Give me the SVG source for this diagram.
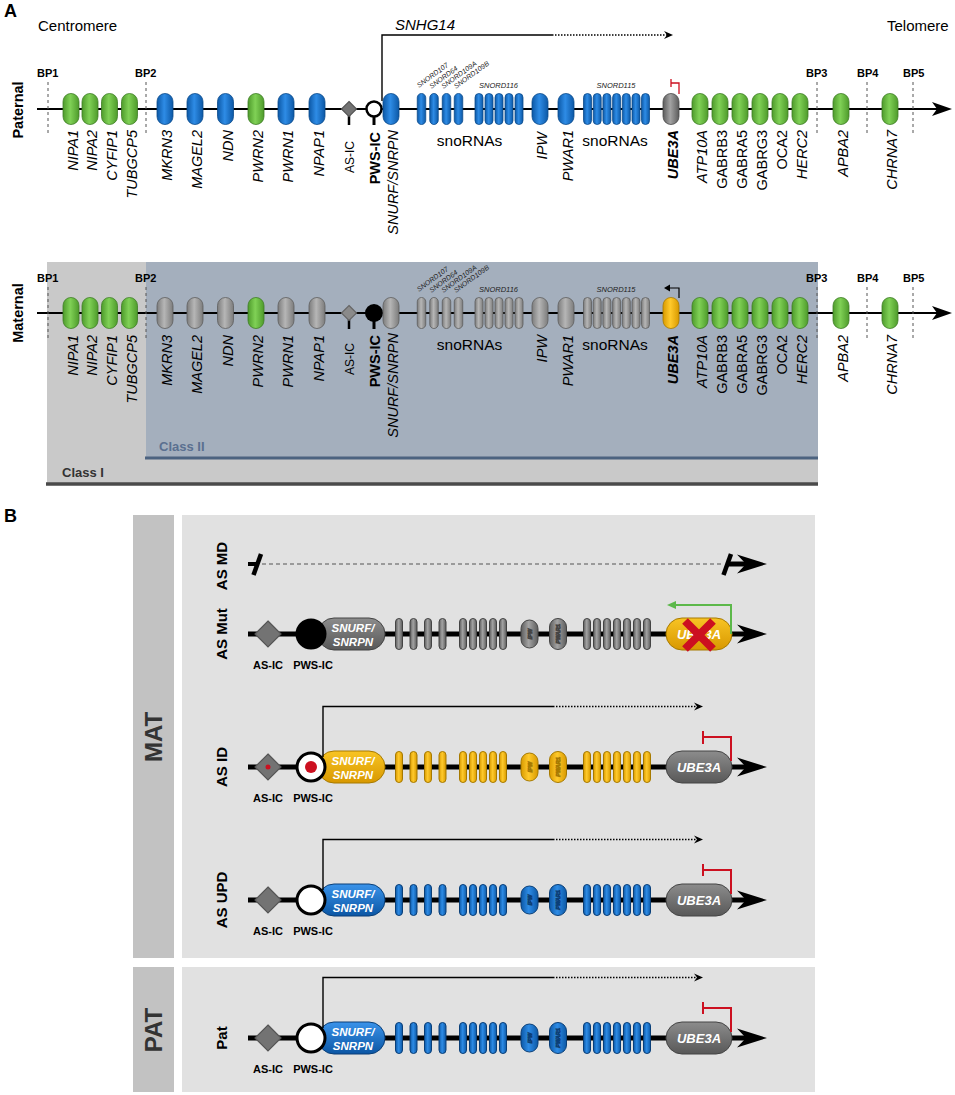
<svg xmlns="http://www.w3.org/2000/svg" width="955" height="1095" viewBox="0 0 955 1095">
<defs>
<style>
text{font-family:"Liberation Sans",Arial,Helvetica,sans-serif;fill:#000}
.gl{font-size:14.5px;font-style:italic}
.pl{font-size:14.5px;font-weight:bold}
.asl{font-size:12px}
.bp{font-size:11px;font-weight:bold}
.sn{font-size:7px;font-style:italic;fill:#222}
.sn2{font-size:7.5px;font-style:italic;fill:#222}
.sno{font-size:15.5px}
.hd{font-size:15px}
.row{font-size:15px;font-weight:bold}
.side{font-size:24px;font-weight:bold;fill:#333}
.icl{font-size:11px;font-weight:bold}
.wt{font-weight:bold;font-style:italic;fill:#fff}
.tiny{font-size:5.5px;font-weight:bold;font-style:italic;fill:#fff}
.g{fill:url(#gG);stroke:#3f7d27;stroke-width:.8}
.b{fill:url(#gB);stroke:#0c4b8c;stroke-width:.8}
.k{fill:url(#gK);stroke:#4a4a4a;stroke-width:.8}
.m{fill:url(#gM);stroke:#5e5e5e;stroke-width:.8}
.o{fill:url(#gO);stroke:#a77a00;stroke-width:.8}
.bb{fill:url(#gB);stroke:#0a3f78;stroke-width:1}
.bk{fill:url(#gK);stroke:#444;stroke-width:1}
.bo{fill:url(#gO);stroke:#a77a00;stroke-width:1}
.bv{fill:url(#gBv);stroke:#0a3f78;stroke-width:1}
.kv{fill:url(#gKv);stroke:#444;stroke-width:1}
.ov{fill:url(#gOv);stroke:#a77a00;stroke-width:1}
.ax{stroke:#000;stroke-width:2;fill:none}
.axB{stroke:#000;stroke-width:5;fill:none}
.dash{stroke:#555;stroke-width:1;stroke-dasharray:3 3;fill:none}
.tx{stroke:#000;stroke-width:1.4;fill:none}
.dot{stroke:#000;stroke-width:1.4;stroke-dasharray:1.5 1.5;fill:none}
.red{stroke:#cc1020;stroke-width:2;fill:none}
.dia{fill:#737373;stroke:#555;stroke-width:1.2}
</style>
<linearGradient id="gG" x1="0" y1="0" x2="1" y2="0"><stop offset="0" stop-color="#4e9b2b"/><stop offset=".45" stop-color="#80d156"/><stop offset="1" stop-color="#4e9b2b"/></linearGradient>
<linearGradient id="gB" x1="0" y1="0" x2="1" y2="0"><stop offset="0" stop-color="#0c58a6"/><stop offset=".45" stop-color="#2e8ce6"/><stop offset="1" stop-color="#0c58a6"/></linearGradient>
<linearGradient id="gK" x1="0" y1="0" x2="1" y2="0"><stop offset="0" stop-color="#5c5c5c"/><stop offset=".45" stop-color="#a3a3a3"/><stop offset="1" stop-color="#5c5c5c"/></linearGradient>
<linearGradient id="gM" x1="0" y1="0" x2="1" y2="0"><stop offset="0" stop-color="#7c7c7c"/><stop offset=".45" stop-color="#b6b6b6"/><stop offset="1" stop-color="#7c7c7c"/></linearGradient>
<linearGradient id="gO" x1="0" y1="0" x2="1" y2="0"><stop offset="0" stop-color="#d99a00"/><stop offset=".45" stop-color="#ffca2c"/><stop offset="1" stop-color="#d99a00"/></linearGradient>
<linearGradient id="gBv" x1="0" y1="0" x2="0" y2="1"><stop offset="0" stop-color="#3a93ea"/><stop offset="1" stop-color="#0b56a4"/></linearGradient>
<linearGradient id="gKv" x1="0" y1="0" x2="0" y2="1"><stop offset="0" stop-color="#8c8c8c"/><stop offset="1" stop-color="#585858"/></linearGradient>
<linearGradient id="gOv" x1="0" y1="0" x2="0" y2="1"><stop offset="0" stop-color="#f8c424"/><stop offset="1" stop-color="#d89800"/></linearGradient>
<path id="ahA" d="M0,0 L-20,-7 L-15,0 L-20,7Z"/>
<path id="ahB" d="M0,0 L-30,-9.5 L-21,0 L-30,9.5Z"/>
<path id="ahS" d="M0,0 L-9,-4 L-6,0 L-9,4Z"/>
<g id="bbars">
<rect x="395.5" y="-15.5" width="7" height="31" rx="3.5"/>
<rect x="410" y="-15.5" width="7" height="31" rx="3.5"/>
<rect x="424.5" y="-15.5" width="7" height="31" rx="3.5"/>
<rect x="439" y="-15.5" width="7" height="31" rx="3.5"/>
<rect x="459.5" y="-15.5" width="7" height="31" rx="3.5"/>
<rect x="469.5" y="-15.5" width="7" height="31" rx="3.5"/>
<rect x="479.5" y="-15.5" width="7" height="31" rx="3.5"/>
<rect x="489.5" y="-15.5" width="7" height="31" rx="3.5"/>
<rect x="499.5" y="-15.5" width="7" height="31" rx="3.5"/>
<rect x="521" y="-14" width="17" height="28" rx="8.5"/>
<text class="tiny" transform="translate(531.5,0) rotate(-90)" text-anchor="middle">IPW</text>
<rect x="549.5" y="-15.5" width="17" height="31" rx="8.5"/>
<text class="tiny" transform="translate(560,0) rotate(-90)" text-anchor="middle">PWAR1</text>
<rect x="583.5" y="-15.5" width="7" height="31" rx="3.5"/>
<rect x="593.5" y="-15.5" width="7" height="31" rx="3.5"/>
<rect x="603.5" y="-15.5" width="7" height="31" rx="3.5"/>
<rect x="613.5" y="-15.5" width="7" height="31" rx="3.5"/>
<rect x="623.5" y="-15.5" width="7" height="31" rx="3.5"/>
<rect x="633.5" y="-15.5" width="7" height="31" rx="3.5"/>
<rect x="643.5" y="-15.5" width="7" height="31" rx="3.5"/>
</g>
</defs>
<rect width="955" height="1095" fill="#fff"/>

<!-- ============ PANEL A ============ -->
<g id="panelA-labels">
<text x="4" y="17" style="font-size:18px;font-weight:bold">A</text>
<text class="hd" x="38" y="31">Centromere</text>
<text class="hd" x="887" y="31">Telomere</text>
<text class="pl" transform="translate(23,110) rotate(-90)" text-anchor="middle">Paternal</text>
<text class="pl" transform="translate(23,313) rotate(-90)" text-anchor="middle">Maternal</text>
</g>

<g id="class-regions">
<rect x="47" y="262" width="771" height="222" fill="#c9c9c9"/>
<rect x="146" y="262" width="672" height="196" fill="#a4afbd"/>
<line x1="145" y1="458" x2="818" y2="458" stroke="#4c6380" stroke-width="3"/>
<line x1="46" y1="484" x2="818" y2="484" stroke="#4a4a4a" stroke-width="3.5"/>
<text x="159" y="451" style="font-size:13px;font-weight:bold;fill:#5a7090">Class II</text>
<text x="62" y="477" style="font-size:13px;font-weight:bold;fill:#333">Class I</text>
</g>

<!-- ============ PANEL B frame ============ -->
<g id="panelB-frame">
<text x="4" y="522" style="font-size:18px;font-weight:bold">B</text>
<rect x="133" y="515" width="41" height="443" fill="#c2c2c2"/>
<rect x="182" y="515" width="633" height="443" fill="#e1e1e1"/>
<rect x="133" y="967" width="41" height="125" fill="#c2c2c2"/>
<rect x="182" y="967" width="633" height="125" fill="#e1e1e1"/>
<text class="side" transform="translate(162,737) rotate(-90)" text-anchor="middle">MAT</text>
<text class="side" transform="translate(162,1030) rotate(-90)" text-anchor="middle">PAT</text>
</g>

<g id="connectors">
<line class="ax" x1="37" y1="109" x2="940" y2="109"/>
<use href="#ahA" x="952" y="109"/>
<line class="ax" x1="37" y1="313" x2="940" y2="313"/>
<use href="#ahA" x="952" y="313"/>
<path class="dash" d="M48,82V135M146,82V135M817,82V135M867,82V135M913,82V135"/>
<path class="dash" d="M48,287V338M146,287V338M817,287V338M867,287V338M913,287V338"/>
<path class="tx" d="M382,101V35H552"/>
<path class="dot" d="M552,35H667"/>
<use href="#ahS" x="673" y="35"/>
<path d="M679,94V83H671M671,79V87" stroke="#cc1020" stroke-width="1.3" fill="none"/>
<path d="M679,298V288H668" stroke="#000" stroke-width="1.2" fill="none"/>
<path d="M664,288l6,-3.5v7z"/>
<path d="M248,564H258" stroke="#000" stroke-width="4"/>
<path d="M253.5,575L261,554" stroke="#000" stroke-width="4.5"/>
<path d="M262,564H722" stroke="#555" stroke-width="1.2" stroke-dasharray="4 3" fill="none"/>
<path d="M723.5,575L731,554" stroke="#000" stroke-width="4.5"/>
<path d="M728,564H748" class="axB"/>
<use href="#ahB" x="767" y="564"/>
<line class="axB" x1="248" y1="634" x2="748" y2="634"/>
<use href="#ahB" x="767" y="634"/>
<line class="axB" x1="248" y1="767" x2="748" y2="767"/>
<use href="#ahB" x="767" y="767"/>
<line class="axB" x1="248" y1="900" x2="748" y2="900"/>
<use href="#ahB" x="767" y="900"/>
<line class="axB" x1="248" y1="1038" x2="748" y2="1038"/>
<use href="#ahB" x="767" y="1038"/>
</g>

<g id="SNHG14-label"><text x="395" y="30" style="font-size:15px;font-style:italic">SNHG14</text></g>

<g id="breakpoints">
<text class="bp" x="37" y="77">BP1</text><text class="bp" x="135" y="77">BP2</text>
<text class="bp" x="806" y="77">BP3</text><text class="bp" x="857" y="77">BP4</text><text class="bp" x="903" y="77">BP5</text>
<text class="bp" x="37" y="282">BP1</text><text class="bp" x="135" y="282">BP2</text>
<text class="bp" x="806" y="282">BP3</text><text class="bp" x="857" y="282">BP4</text><text class="bp" x="903" y="282">BP5</text>
</g>

<!-- paternal row genes -->
<g id="pat-NIPA1"><rect class="g" x="63" y="93.5" width="16" height="31" rx="8"/><text class="gl" transform="translate(78,130) rotate(-90)" text-anchor="end">NIPA1</text></g>
<g id="pat-NIPA2"><rect class="g" x="82" y="93.5" width="16" height="31" rx="8"/><text class="gl" transform="translate(97,130) rotate(-90)" text-anchor="end">NIPA2</text></g>
<g id="pat-CYFIP1"><rect class="g" x="101.5" y="93.5" width="16" height="31" rx="8"/><text class="gl" transform="translate(116.5,130) rotate(-90)" text-anchor="end">CYFIP1</text></g>
<g id="pat-TUBGCP5"><rect class="g" x="121.5" y="93.5" width="16" height="31" rx="8"/><text class="gl" transform="translate(136.5,130) rotate(-90)" text-anchor="end">TUBGCP5</text></g>
<g id="pat-MKRN3"><rect class="b" x="157" y="93.5" width="16" height="31" rx="8"/><text class="gl" transform="translate(172,130) rotate(-90)" text-anchor="end">MKRN3</text></g>
<g id="pat-MAGEL2"><rect class="b" x="187" y="93.5" width="16" height="31" rx="8"/><text class="gl" transform="translate(202,130) rotate(-90)" text-anchor="end">MAGEL2</text></g>
<g id="pat-NDN"><rect class="b" x="217.5" y="93.5" width="16" height="31" rx="8"/><text class="gl" transform="translate(232.5,130) rotate(-90)" text-anchor="end">NDN</text></g>
<g id="pat-PWRN2"><rect class="g" x="248" y="93.5" width="16" height="31" rx="8"/><text class="gl" transform="translate(263,130) rotate(-90)" text-anchor="end">PWRN2</text></g>
<g id="pat-PWRN1"><rect class="b" x="278" y="93.5" width="16" height="31" rx="8"/><text class="gl" transform="translate(293,130) rotate(-90)" text-anchor="end">PWRN1</text></g>
<g id="pat-NPAP1"><rect class="b" x="309" y="93.5" width="16" height="31" rx="8"/><text class="gl" transform="translate(324,130) rotate(-90)" text-anchor="end">NPAP1</text></g>
<g id="pat-ASIC"><line x1="349" y1="109" x2="349" y2="125" stroke="#000" stroke-width="2.5"/><path class="dia" d="M349,101.5L356.5,109L349,116.5L341.5,109Z"/><text class="asl" transform="translate(354,141) rotate(-90)" text-anchor="end">AS-IC</text></g>
<g id="pat-PWSIC"><line x1="374" y1="115" x2="374" y2="125" stroke="#000" stroke-width="3"/><circle cx="374" cy="109" r="7.5" fill="#fff" stroke="#000" stroke-width="2.5"/><text class="pl" transform="translate(380,132) rotate(-90)" text-anchor="end">PWS-IC</text></g>
<g id="pat-SNURF"><rect class="b" x="383" y="93.5" width="16" height="31" rx="8"/><text class="gl" transform="translate(398,130) rotate(-90)" text-anchor="end">SNURF/SNRPN</text></g>
<g id="pat-snoRNAs1">
<rect class="b" x="417.25" y="93.5" width="8.5" height="31" rx="4.25"/><rect class="b" x="429.75" y="93.5" width="8.5" height="31" rx="4.25"/><rect class="b" x="442.25" y="93.5" width="8.5" height="31" rx="4.25"/><rect class="b" x="454.25" y="93.5" width="8.5" height="31" rx="4.25"/>
<rect class="b" x="475" y="93.5" width="8" height="31" rx="4"/><rect class="b" x="485" y="93.5" width="8" height="31" rx="4"/><rect class="b" x="495" y="93.5" width="8" height="31" rx="4"/><rect class="b" x="505" y="93.5" width="8" height="31" rx="4"/><rect class="b" x="515" y="93.5" width="8" height="31" rx="4"/>
<text class="sn" transform="translate(419,88) rotate(-36)">SNORD107</text>
<text class="sn" transform="translate(431.5,89) rotate(-36)">SNORD64</text>
<text class="sn" transform="translate(443.5,89) rotate(-36)">SNORD109A</text>
<text class="sn" transform="translate(456,89) rotate(-36)">SNORD109B</text>
<text class="sn2" x="498.5" y="88" text-anchor="middle">SNORD116</text>
<text class="sno" x="469.5" y="146" text-anchor="middle">snoRNAs</text>
</g>
<g id="pat-IPW"><rect class="b" x="532" y="93.5" width="16" height="31" rx="8"/><text class="gl" transform="translate(547,132) rotate(-90)" text-anchor="end">IPW</text></g>
<g id="pat-PWAR1"><rect class="b" x="558" y="93.5" width="16" height="31" rx="8"/><text class="gl" transform="translate(573,130) rotate(-90)" text-anchor="end">PWAR1</text></g>
<g id="pat-snoRNAs2">
<rect class="b" x="583.5" y="93.5" width="8" height="31" rx="4"/><rect class="b" x="593.2" y="93.5" width="8" height="31" rx="4"/><rect class="b" x="602.9" y="93.5" width="8" height="31" rx="4"/><rect class="b" x="612.6" y="93.5" width="8" height="31" rx="4"/><rect class="b" x="622.3" y="93.5" width="8" height="31" rx="4"/><rect class="b" x="632" y="93.5" width="8" height="31" rx="4"/><rect class="b" x="641.5" y="93.5" width="8" height="31" rx="4"/>
<text class="sn2" x="616" y="88" text-anchor="middle">SNORD115</text>
<text class="sno" x="615" y="146" text-anchor="middle">snoRNAs</text>
</g>
<g id="pat-UBE3A"><rect class="k" x="663" y="93.5" width="16" height="31" rx="8"/><text class="gl" style="font-weight:bold" transform="translate(678,130) rotate(-90)" text-anchor="end">UBE3A</text></g>
<g id="pat-ATP10A"><rect class="g" x="692" y="93.5" width="16" height="31" rx="8"/><text class="gl" transform="translate(707,130) rotate(-90)" text-anchor="end">ATP10A</text></g>
<g id="pat-GABRB3"><rect class="g" x="712" y="93.5" width="16" height="31" rx="8"/><text class="gl" style="font-style:normal" transform="translate(727,130) rotate(-90)" text-anchor="end">GABRB3</text></g>
<g id="pat-GABRA5"><rect class="g" x="732" y="93.5" width="16" height="31" rx="8"/><text class="gl" style="font-style:normal" transform="translate(747,130) rotate(-90)" text-anchor="end">GABRA5</text></g>
<g id="pat-GABRG3"><rect class="g" x="752" y="93.5" width="16" height="31" rx="8"/><text class="gl" style="font-style:normal" transform="translate(767,130) rotate(-90)" text-anchor="end">GABRG3</text></g>
<g id="pat-OCA2"><rect class="g" x="772" y="93.5" width="16" height="31" rx="8"/><text class="gl" style="font-style:normal" transform="translate(787,130) rotate(-90)" text-anchor="end">OCA2</text></g>
<g id="pat-HERC2"><rect class="g" x="792" y="93.5" width="16" height="31" rx="8"/><text class="gl" transform="translate(807,130) rotate(-90)" text-anchor="end">HERC2</text></g>
<g id="pat-APBA2"><rect class="g" x="833" y="93.5" width="16" height="31" rx="8"/><text class="gl" transform="translate(848,130) rotate(-90)" text-anchor="end">APBA2</text></g>
<g id="pat-CHRNA7"><rect class="g" x="882" y="93.5" width="16" height="31" rx="8"/><text class="gl" transform="translate(897,130) rotate(-90)" text-anchor="end">CHRNA7</text></g>

<!-- maternal row genes -->
<g id="mat-NIPA1"><rect class="g" x="63" y="297.5" width="16" height="31" rx="8"/><text class="gl" transform="translate(78,335) rotate(-90)" text-anchor="end">NIPA1</text></g>
<g id="mat-NIPA2"><rect class="g" x="82" y="297.5" width="16" height="31" rx="8"/><text class="gl" transform="translate(97,335) rotate(-90)" text-anchor="end">NIPA2</text></g>
<g id="mat-CYFIP1"><rect class="g" x="101.5" y="297.5" width="16" height="31" rx="8"/><text class="gl" transform="translate(116.5,335) rotate(-90)" text-anchor="end">CYFIP1</text></g>
<g id="mat-TUBGCP5"><rect class="g" x="121.5" y="297.5" width="16" height="31" rx="8"/><text class="gl" transform="translate(136.5,335) rotate(-90)" text-anchor="end">TUBGCP5</text></g>
<g id="mat-MKRN3"><rect class="m" x="157" y="297.5" width="16" height="31" rx="8"/><text class="gl" transform="translate(172,335) rotate(-90)" text-anchor="end">MKRN3</text></g>
<g id="mat-MAGEL2"><rect class="m" x="187" y="297.5" width="16" height="31" rx="8"/><text class="gl" transform="translate(202,335) rotate(-90)" text-anchor="end">MAGEL2</text></g>
<g id="mat-NDN"><rect class="m" x="217.5" y="297.5" width="16" height="31" rx="8"/><text class="gl" transform="translate(232.5,335) rotate(-90)" text-anchor="end">NDN</text></g>
<g id="mat-PWRN2"><rect class="g" x="248" y="297.5" width="16" height="31" rx="8"/><text class="gl" transform="translate(263,335) rotate(-90)" text-anchor="end">PWRN2</text></g>
<g id="mat-PWRN1"><rect class="m" x="278" y="297.5" width="16" height="31" rx="8"/><text class="gl" transform="translate(293,335) rotate(-90)" text-anchor="end">PWRN1</text></g>
<g id="mat-NPAP1"><rect class="m" x="309" y="297.5" width="16" height="31" rx="8"/><text class="gl" transform="translate(324,335) rotate(-90)" text-anchor="end">NPAP1</text></g>
<g id="mat-ASIC"><line x1="349" y1="313" x2="349" y2="329" stroke="#000" stroke-width="2.5"/><path class="dia" style="fill:#8a8a8a;stroke:#666" d="M349,305.5L356.5,313L349,320.5L341.5,313Z"/><text class="asl" transform="translate(354,343) rotate(-90)" text-anchor="end">AS-IC</text></g>
<g id="mat-PWSIC"><line x1="374" y1="319" x2="374" y2="329" stroke="#000" stroke-width="3"/><circle cx="374" cy="313" r="9" fill="#000"/><text class="pl" transform="translate(380,335) rotate(-90)" text-anchor="end">PWS-IC</text></g>
<g id="mat-SNURF"><rect class="m" x="383" y="297.5" width="16" height="31" rx="8"/><text class="gl" transform="translate(398,333) rotate(-90)" text-anchor="end">SNURF/SNRPN</text></g>
<g id="mat-snoRNAs1">
<rect class="m" x="417.25" y="297.5" width="8.5" height="31" rx="4.25"/><rect class="m" x="429.75" y="297.5" width="8.5" height="31" rx="4.25"/><rect class="m" x="442.25" y="297.5" width="8.5" height="31" rx="4.25"/><rect class="m" x="454.25" y="297.5" width="8.5" height="31" rx="4.25"/>
<rect class="m" x="475" y="297.5" width="8" height="31" rx="4"/><rect class="m" x="485" y="297.5" width="8" height="31" rx="4"/><rect class="m" x="495" y="297.5" width="8" height="31" rx="4"/><rect class="m" x="505" y="297.5" width="8" height="31" rx="4"/><rect class="m" x="515" y="297.5" width="8" height="31" rx="4"/>
<text class="sn" transform="translate(419,292) rotate(-36)">SNORD107</text>
<text class="sn" transform="translate(431.5,293) rotate(-36)">SNORD64</text>
<text class="sn" transform="translate(443.5,293) rotate(-36)">SNORD109A</text>
<text class="sn" transform="translate(456,293) rotate(-36)">SNORD109B</text>
<text class="sn2" x="498.5" y="292" text-anchor="middle">SNORD116</text>
<text class="sno" x="469.5" y="350" text-anchor="middle">snoRNAs</text>
</g>
<g id="mat-IPW"><rect class="m" x="532" y="297.5" width="16" height="31" rx="8"/><text class="gl" transform="translate(547,335) rotate(-90)" text-anchor="end">IPW</text></g>
<g id="mat-PWAR1"><rect class="m" x="558" y="297.5" width="16" height="31" rx="8"/><text class="gl" transform="translate(573,335) rotate(-90)" text-anchor="end">PWAR1</text></g>
<g id="mat-snoRNAs2">
<rect class="m" x="583.5" y="297.5" width="8" height="31" rx="4"/><rect class="m" x="593.2" y="297.5" width="8" height="31" rx="4"/><rect class="m" x="602.9" y="297.5" width="8" height="31" rx="4"/><rect class="m" x="612.6" y="297.5" width="8" height="31" rx="4"/><rect class="m" x="622.3" y="297.5" width="8" height="31" rx="4"/><rect class="m" x="632" y="297.5" width="8" height="31" rx="4"/><rect class="m" x="641.5" y="297.5" width="8" height="31" rx="4"/>
<text class="sn2" x="616" y="292" text-anchor="middle">SNORD115</text>
<text class="sno" x="615" y="350" text-anchor="middle">snoRNAs</text>
</g>
<g id="mat-UBE3A"><rect class="o" x="663" y="297.5" width="16" height="31" rx="8"/><text class="gl" style="font-weight:bold" transform="translate(678,335) rotate(-90)" text-anchor="end">UBE3A</text></g>
<g id="mat-ATP10A"><rect class="g" x="692" y="297.5" width="16" height="31" rx="8"/><text class="gl" transform="translate(707,335) rotate(-90)" text-anchor="end">ATP10A</text></g>
<g id="mat-GABRB3"><rect class="g" x="712" y="297.5" width="16" height="31" rx="8"/><text class="gl" style="font-style:normal" transform="translate(727,335) rotate(-90)" text-anchor="end">GABRB3</text></g>
<g id="mat-GABRA5"><rect class="g" x="732" y="297.5" width="16" height="31" rx="8"/><text class="gl" style="font-style:normal" transform="translate(747,335) rotate(-90)" text-anchor="end">GABRA5</text></g>
<g id="mat-GABRG3"><rect class="g" x="752" y="297.5" width="16" height="31" rx="8"/><text class="gl" style="font-style:normal" transform="translate(767,335) rotate(-90)" text-anchor="end">GABRG3</text></g>
<g id="mat-OCA2"><rect class="g" x="772" y="297.5" width="16" height="31" rx="8"/><text class="gl" style="font-style:normal" transform="translate(787,335) rotate(-90)" text-anchor="end">OCA2</text></g>
<g id="mat-HERC2"><rect class="g" x="792" y="297.5" width="16" height="31" rx="8"/><text class="gl" transform="translate(807,335) rotate(-90)" text-anchor="end">HERC2</text></g>
<g id="mat-APBA2"><rect class="g" x="833" y="297.5" width="16" height="31" rx="8"/><text class="gl" transform="translate(848,335) rotate(-90)" text-anchor="end">APBA2</text></g>
<g id="mat-CHRNA7"><rect class="g" x="882" y="297.5" width="16" height="31" rx="8"/><text class="gl" transform="translate(897,335) rotate(-90)" text-anchor="end">CHRNA7</text></g>

<!-- ============ PANEL B rows ============ -->
<g id="row-ASMD">
<text class="row" transform="translate(227,566) rotate(-90)" text-anchor="middle">AS MD</text>
</g>

<g id="row-ASMut">
<text class="row" transform="translate(227,634) rotate(-90)" text-anchor="middle">AS Mut</text>
<path class="dia" d="M268,621L281,634L268,647L255,634Z"/>
<rect class="kv" x="318" y="618" width="67" height="32" rx="16"/>
<circle cx="311" cy="634" r="15.5" fill="#000"/>
<text class="wt" x="353" y="632" text-anchor="middle" style="font-size:11.5px">SNURF/</text>
<text class="wt" x="353" y="646" text-anchor="middle" style="font-size:11.5px">SNRPN</text>
<use href="#bbars" y="634" class="bk"/>
<rect class="ov" x="666" y="618" width="66" height="32" rx="16"/>
<text class="wt" x="699" y="639" text-anchor="middle" style="font-size:13px">UBE3A</text>
<path d="M685,621L713,649M713,621L685,649" stroke="#cc1020" stroke-width="8"/>
<path d="M731,634V605H674" stroke="#5cb84a" stroke-width="2" fill="none"/>
<path d="M667,605l9,-4v8z" fill="#5cb84a"/>
<text class="icl" x="268" y="669" text-anchor="middle">AS-IC</text>
<text class="icl" x="313" y="669" text-anchor="middle">PWS-IC</text>
</g>

<g id="row-ASID">
<text class="row" transform="translate(227,767) rotate(-90)" text-anchor="middle">AS ID</text>
<path class="dia" d="M268,754L281,767L268,780L255,767Z"/>
<circle cx="268" cy="767" r="2.5" fill="#cc1020"/>
<rect class="ov" x="318" y="751" width="67" height="32" rx="16"/>
<circle cx="311" cy="767" r="14" fill="#fff" stroke="#000" stroke-width="3"/>
<circle cx="311" cy="767" r="6" fill="#cc1020"/>
<text class="wt" x="353" y="765" text-anchor="middle" style="font-size:11.5px">SNURF/</text>
<text class="wt" x="353" y="779" text-anchor="middle" style="font-size:11.5px">SNRPN</text>
<use href="#bbars" y="767" class="bo"/>
<rect class="kv" x="666" y="751" width="66" height="32" rx="16"/>
<text class="wt" x="699" y="772" text-anchor="middle" style="font-size:13px">UBE3A</text>
<path class="tx" d="M323,757V706.5H553"/>
<path class="dot" d="M553,706.5H697"/>
<use href="#ahS" x="703" y="706.5"/>
<path class="red" d="M731,761V737H703M703,731V744"/>
<text class="icl" x="268" y="802" text-anchor="middle">AS-IC</text>
<text class="icl" x="313" y="802" text-anchor="middle">PWS-IC</text>
</g>

<g id="row-ASUPD">
<text class="row" transform="translate(227,900) rotate(-90)" text-anchor="middle">AS UPD</text>
<path class="dia" d="M268,887L281,900L268,913L255,900Z"/>
<rect class="bv" x="318" y="884" width="67" height="32" rx="16"/>
<circle cx="311" cy="900" r="14" fill="#fff" stroke="#000" stroke-width="3"/>
<text class="wt" x="353" y="898" text-anchor="middle" style="font-size:11.5px">SNURF/</text>
<text class="wt" x="353" y="912" text-anchor="middle" style="font-size:11.5px">SNRPN</text>
<use href="#bbars" y="900" class="bb"/>
<rect class="kv" x="666" y="884" width="66" height="32" rx="16"/>
<text class="wt" x="699" y="905" text-anchor="middle" style="font-size:13px">UBE3A</text>
<path class="tx" d="M323,890V839.5H553"/>
<path class="dot" d="M553,839.5H697"/>
<use href="#ahS" x="703" y="839.5"/>
<path class="red" d="M731,894V870H703M703,864V876"/>
<text class="icl" x="268" y="935" text-anchor="middle">AS-IC</text>
<text class="icl" x="313" y="935" text-anchor="middle">PWS-IC</text>
</g>

<g id="row-Pat">
<text class="row" transform="translate(227,1038) rotate(-90)" text-anchor="middle">Pat</text>
<path class="dia" d="M268,1025L281,1038L268,1051L255,1038Z"/>
<rect class="bv" x="318" y="1022" width="67" height="32" rx="16"/>
<circle cx="311" cy="1038" r="14" fill="#fff" stroke="#000" stroke-width="3"/>
<text class="wt" x="353" y="1036" text-anchor="middle" style="font-size:11.5px">SNURF/</text>
<text class="wt" x="353" y="1050" text-anchor="middle" style="font-size:11.5px">SNRPN</text>
<use href="#bbars" y="1038" class="bb"/>
<rect class="kv" x="666" y="1022" width="66" height="32" rx="16"/>
<text class="wt" x="699" y="1043" text-anchor="middle" style="font-size:13px">UBE3A</text>
<path class="tx" d="M323,1028V977.5H553"/>
<path class="dot" d="M553,977.5H697"/>
<use href="#ahS" x="703" y="977.5"/>
<path class="red" d="M731,1032V1008H703M703,1002V1014"/>
<text class="icl" x="268" y="1073" text-anchor="middle">AS-IC</text>
<text class="icl" x="313" y="1073" text-anchor="middle">PWS-IC</text>
</g>
</svg>
